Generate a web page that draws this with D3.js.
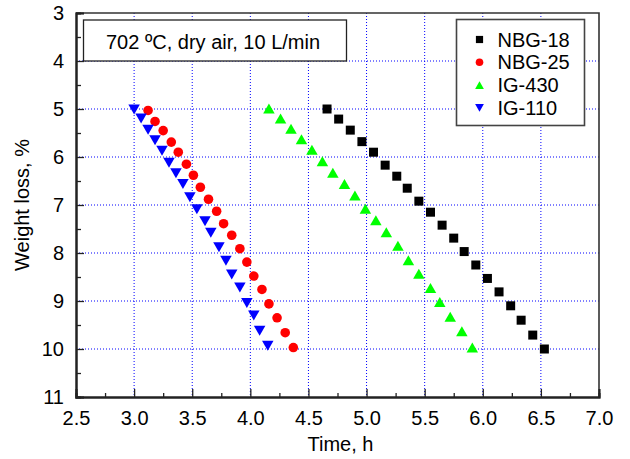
<!DOCTYPE html>
<meta charset="utf-8">
<script src="https://cdn.jsdelivr.net/npm/d3@7"></script>
<style>
body { margin: 0; background: #fff; }
svg { font-family: "Liberation Sans", Arial, sans-serif; }
.grid line { stroke: #0000ff; stroke-width: 1; stroke-dasharray: 1,2; }
</style>
<body>
<script>
  // series (time in h, weight loss in %)
  var nbg18X = [4.66,4.76,4.86,4.96,5.06,5.16,5.26,5.35,5.45,5.55,5.65,5.75,5.84,5.94,6.04,6.14,6.24,6.33,6.43,6.53],
      nbg18Y = [5.00,5.21,5.44,5.68,5.90,6.17,6.40,6.65,6.92,7.15,7.42,7.69,7.97,8.25,8.53,8.81,9.10,9.40,9.71,10.00];
  var nbg25X = [3.12,3.18,3.25,3.32,3.38,3.45,3.51,3.57,3.64,3.71,3.77,3.84,3.91,3.97,4.03,4.10,4.16,4.23,4.30,4.37],
      nbg25Y = [5.03,5.26,5.45,5.69,5.90,6.15,6.38,6.63,6.88,7.13,7.39,7.63,7.91,8.19,8.48,8.76,9.06,9.35,9.66,9.97];
  var ig430X = [4.16,4.26,4.35,4.44,4.53,4.62,4.71,4.81,4.90,4.99,5.08,5.17,5.27,5.36,5.45,5.55,5.63,5.72,5.82,5.91],
      ig430Y = [4.99,5.20,5.41,5.63,5.85,6.09,6.33,6.56,6.80,7.08,7.32,7.57,7.85,8.15,8.43,8.73,9.02,9.33,9.63,9.97];
  var ig110X = [3.00,3.06,3.12,3.18,3.24,3.30,3.36,3.42,3.48,3.54,3.61,3.66,3.73,3.79,3.84,3.91,3.97,4.03,4.08,4.15],
      ig110Y = [5.01,5.20,5.43,5.65,5.87,6.12,6.34,6.56,6.84,7.09,7.34,7.58,7.88,8.16,8.45,8.72,9.04,9.30,9.62,9.93];

  var seriesNames = ["NBG-18", "NBG-25", "IG-430", "IG-110"];
  var xTicks = [2.5,3.0,3.5,4.0,4.5,5.0,5.5,6.0,6.5,7.0],
      yTicks = [3,4,5,6,7,8,9,10,11];
  var note = "702 \u00baC, dry air, 10 L/min";

  var series = [
    {name: seriesNames[0], xs: nbg18X, ys: nbg18Y, color: "#000000", shape: "square"},
    {name: seriesNames[1], xs: nbg25X, ys: nbg25Y, color: "#ff0000", shape: "circle"},
    {name: seriesNames[2], xs: ig430X, ys: ig430Y, color: "#00ff00", shape: "up"},
    {name: seriesNames[3], xs: ig110X, ys: ig110Y, color: "#0000ff", shape: "down"}
  ];

  var W = 630, H = 459,
      margin = {top: 13, right: 31, bottom: 62, left: 76},
      width = W - margin.left - margin.right,
      height = H - margin.top - margin.bottom;

  var svg = d3.select("body").append("svg")
    .attr("width", W)
    .attr("height", H);

  svg.append("rect").attr("width", W).attr("height", H).attr("fill", "#fff");

  var g = svg.append("g")
    .attr("transform", "translate(" + margin.left + "," + margin.top + ")");

  var x = d3.scaleLinear().domain([2.5, 7.0]).range([0, width]);
  var y = d3.scaleLinear().domain([3, 11]).range([0, height]);

  // grid
  g.append("g").attr("class", "grid")
    .selectAll("line").data(xTicks.slice(1, -1)).enter().append("line")
    .attr("x1", d => x(d)).attr("x2", d => x(d))
    .attr("y1", 0).attr("y2", height);
  g.append("g").attr("class", "grid")
    .selectAll("line").data(yTicks.slice(1, -1)).enter().append("line")
    .attr("y1", d => y(d)).attr("y2", d => y(d))
    .attr("x1", 0).attr("x2", width);

  // frame (top / right)
  g.append("path")
    .attr("d", "M0,0H" + width + "V" + height)
    .attr("fill", "none").attr("stroke", "#333").attr("stroke-width", 1.6);

  // annotation box
  g.append("rect")
    .attr("x", 7.5).attr("y", 7)
    .attr("width", 263).attr("height", y(4) - 7)
    .attr("fill", "#fff").attr("stroke", "#222").attr("stroke-width", 1.3);
  g.append("text")
    .attr("x", 30).attr("y", 36)
    .attr("font-size", "20px")
    .text(note);

  // axes
  var xAxis = d3.axisBottom(x)
    .tickValues(xTicks)
    .tickSize(-8)
    .tickPadding(14)
    .tickFormat(d3.format(".1f"));
  var xMinor = d3.axisBottom(x)
    .tickValues(xTicks.slice(0, -1).map(d => d + 0.25))
    .tickSize(-4).tickFormat("");
  var yAxis = d3.axisLeft(y)
    .tickValues(yTicks)
    .tickSize(-8)
    .tickPadding(12)
    .tickFormat(d3.format("d"));
  var yMinor = d3.axisLeft(y)
    .tickValues(yTicks.slice(0, -1).map(d => d + 0.5))
    .tickSize(-5).tickFormat("");

  [
    g.append("g").attr("transform", "translate(0," + height + ")").call(xAxis),
    g.append("g").attr("transform", "translate(0," + height + ")").call(xMinor),
    g.append("g").call(yAxis),
    g.append("g").call(yMinor)
  ].forEach(function(a) {
    a.select(".domain").attr("stroke", "#222").attr("stroke-width", 2);
    a.selectAll(".tick line").attr("stroke", "#222").attr("stroke-width", 1.3);
    a.selectAll("text").attr("font-size", "20px").attr("fill", "#000")
      .attr("font-family", "Liberation Sans, Arial, sans-serif");
  });

  // axis titles
  svg.append("text")
    .attr("x", margin.left + width / 2 + 3)
    .attr("y", 451)
    .attr("text-anchor", "middle")
    .attr("font-size", "20px")
    .text("Time, h");
  svg.append("text")
    .attr("transform", "translate(29," + (margin.top + height / 2) + ") rotate(-90)")
    .attr("text-anchor", "middle")
    .attr("font-size", "20px")
    .text("Weight loss, %");

  // markers
  function markerPath(shape, s) {
    if (shape === "square") return "M" + (-s) + "," + (-s) + "h" + 2 * s + "v" + 2 * s + "h" + (-2 * s) + "Z";
    if (shape === "circle") return "M" + (-s) + ",0a" + s + "," + s + " 0 1,0 " + 2 * s + ",0a" + s + "," + s + " 0 1,0 " + (-2 * s) + ",0Z";
    var w = s * 1.15, h = s;
    if (shape === "up") return "M0," + (-h) + "L" + w + "," + h + "L" + (-w) + "," + h + "Z";
    return "M0," + h + "L" + w + "," + (-h) + "L" + (-w) + "," + (-h) + "Z";
  }
  var markerSize = {square: 4.5, circle: 4.8, up: 5, down: 5};

  series.forEach(function(s) {
    g.append("g").selectAll("path")
      .data(s.xs.map((v, i) => [v, s.ys[i]]))
      .enter().append("path")
      .attr("transform", d => "translate(" + x(d[0]) + "," + y(d[1]) + ")")
      .attr("d", markerPath(s.shape, markerSize[s.shape]))
      .attr("fill", s.color);
  });

  // legend
  var legend = g.append("g").attr("transform", "translate(" + (456.5 - margin.left) + "," + (19.5 - margin.top) + ")");
  legend.append("rect")
    .attr("width", 128).attr("height", 106)
    .attr("fill", "#fff").attr("stroke", "#444").attr("stroke-width", 1.6);
  var rows = legend.selectAll(".row").data(series).enter().append("g")
    .attr("transform", (d, i) => "translate(0," + (20 + i * 22.8) + ")");
  rows.append("path")
    .attr("transform", "translate(23,0)")
    .attr("d", d => markerPath(d.shape, d.shape === "square" ? 3.6 : 3.8))
    .attr("fill", d => d.color);
  rows.append("text")
    .attr("x", 41).attr("y", 7)
    .attr("font-size", "20px")
    .text(d => d.name);
</script>
</body>
</html>
